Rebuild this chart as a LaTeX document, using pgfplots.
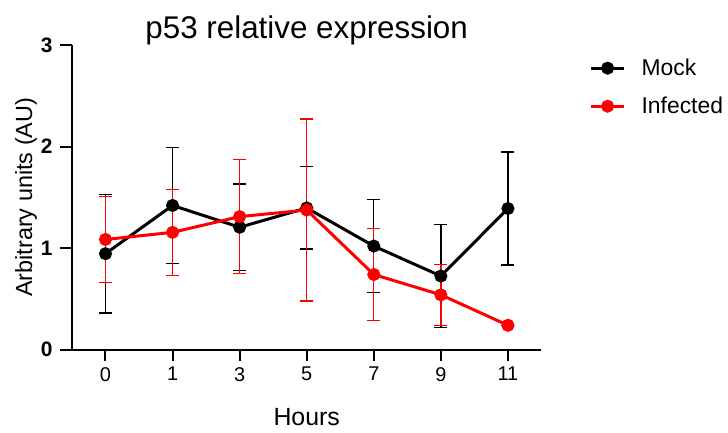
\documentclass[border=0pt]{standalone}
\usepackage{fontspec}
\setmainfont{Liberation Sans}
\usepackage{pgfplots}
\pgfplotsset{compat=1.18}
\definecolor{infred}{RGB}{255,0,0}

\begin{document}
\begin{tikzpicture}
\begin{axis}[
    scale only axis,
    width=470bp, height=305bp,
    xmin=-0.5, xmax=6.5, ymin=0, ymax=3,
    axis x line=bottom, axis y line=left,
    axis line style={-, line width=2.2bp},
    clip=false,
    xtick={0,1,2,3,4,5,6},
    xticklabels={0,1,3,5,7,9,11},
    ytick={0,1,2,3},
    tick align=outside,
    tickwidth=11bp,
    tick style={black, line width=2bp},
    /pgf/number format/assume math mode=true,
    xticklabel style={font=\fontsize{20}{20}\selectfont, yshift=-3bp},
    yticklabel style={font=\bfseries\fontsize{21}{21}\selectfont, xshift=-5bp},
    xlabel={Hours},
    ylabel={Arbitrary units (AU)},
    xlabel style={font=\fontsize{25}{25}\selectfont, yshift=-20bp},
    ylabel style={font=\fontsize{23.5}{23.5}\selectfont, yshift=-3bp},
    title={p53 relative expression},
    title style={font=\fontsize{31.5}{31.5}\selectfont, yshift=-10bp},
    legend style={draw=none, fill=none, at={(1,1)}, anchor=north west,
        xshift=45bp, yshift=-10bp, column sep=14bp,
        font=\fontsize{23}{23}\selectfont, row sep=16bp},
    legend cell align=left,
    legend image code/.code={
        \draw[mark repeat=2, mark phase=2] plot coordinates {(0bp,0bp) (16.5bp,0bp) (33bp,0bp)};
    },
]
% tick marks, drawn by hand
\pgfplotsinvokeforeach{0,...,6}{
    \draw[black, line width=2bp] (axis cs:#1,0) -- ([yshift=-11bp]axis cs:#1,0);
}
\pgfplotsinvokeforeach{0,...,3}{
    \draw[black, line width=2bp] (axis cs:-0.5,#1) -- ([xshift=-12bp]axis cs:-0.5,#1);
}

% Mock
\addplot[black, line width=3bp, mark=*, mark size=5bp, mark options={solid},
    error bars/.cd, y dir=both, y explicit,
    error bar style={line width=1.3bp, black},
    error mark options={rotate=90, mark size=6.5bp, line width=1.3bp, black}]
coordinates {
    (0, 0.945) +- (0, 0.585)
    (1, 1.42)  +- (0, 0.57)
    (2, 1.205) +- (0, 0.425)
    (3, 1.395) +- (0, 0.405)
    (4, 1.02)  +- (0, 0.46)
    (5, 0.725) +- (0, 0.505)
    (6, 1.39)  +- (0, 0.555)
};
\addlegendentry{Mock}

% Infected
\addplot[infred, line width=3bp, mark=*, mark size=5bp, mark options={solid},
    error bars/.cd, y dir=both, y explicit,
    error bar style={line width=1.3bp, infred},
    error mark options={rotate=90, mark size=6.5bp, line width=1.3bp, infred}]
coordinates {
    (0, 1.085) +- (0, 0.425)
    (1, 1.155) +- (0, 0.425)
    (2, 1.31)  +- (0, 0.56)
    (3, 1.375) +- (0, 0.895)
    (4, 0.74)  +- (0, 0.45)
    (5, 0.54)  +- (0, 0.30)
    (6, 0.24)  +- (0, 0)
};
\addlegendentry{Infected}
\end{axis}
\path (current axis.south west) ++(-72bp,-83bp) rectangle ++(728bp,433bp);
\end{tikzpicture}
\end{document}
